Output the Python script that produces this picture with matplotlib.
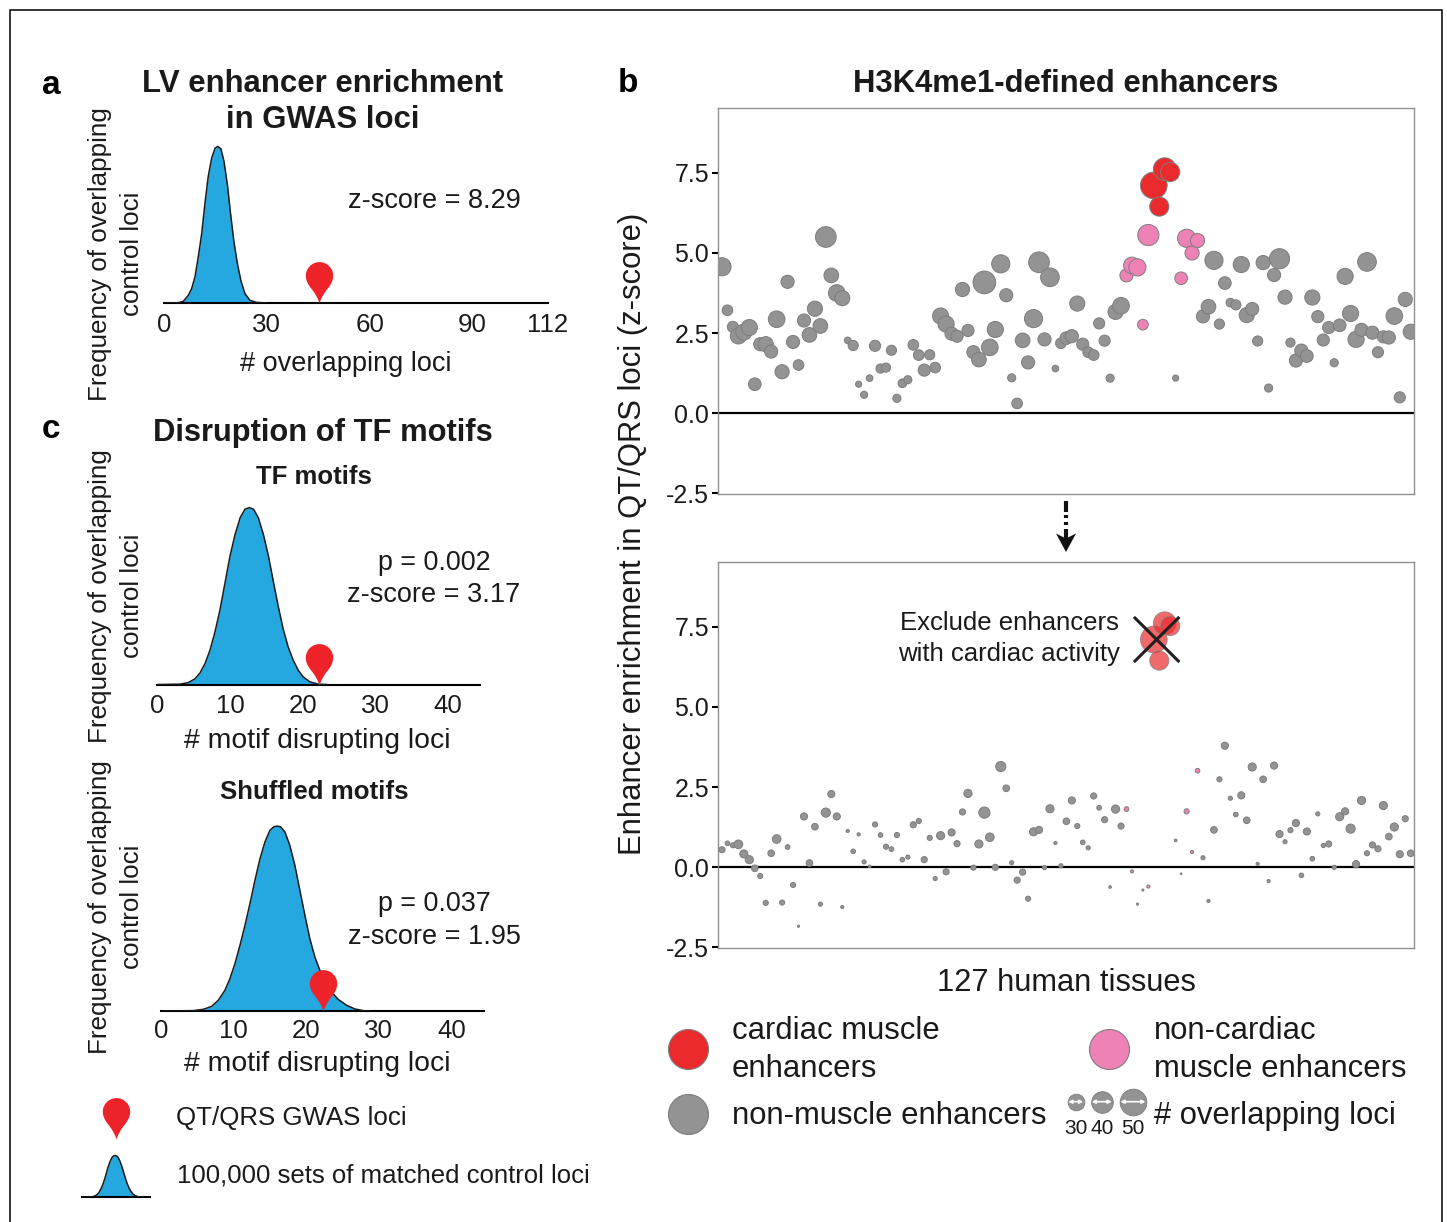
import numpy as np
import matplotlib
matplotlib.use("Agg")
import matplotlib.pyplot as plt
from matplotlib.path import Path
from matplotlib.patches import Polygon

plt.rcParams['font.family'] = ['Liberation Sans', 'DejaVu Sans']

W, H = 1447, 1222

# ---- data: panel b, one entry per tissue -------------------------------
top_z = [4.57,3.21,2.69,2.41,2.53,2.67,0.90,2.15,2.15,1.92,2.93,1.29,4.10,2.22,1.50,2.89,2.44,3.26,2.72,5.50,
 4.30,3.75,3.59,2.27,2.11,0.90,0.57,1.09,2.10,1.39,1.42,1.96,0.46,0.93,1.04,2.13,1.81,1.34,1.82,1.42,
 3.03,2.78,2.48,2.40,3.86,2.58,1.90,1.67,4.08,2.05,2.61,4.66,3.68,1.10,0.30,2.27,1.58,2.95,4.71,2.30,
 4.24,1.39,2.18,2.34,2.40,3.42,2.15,1.90,1.81,2.80,2.26,1.09,3.16,3.35,4.30,4.61,4.55,2.76,5.56,7.11,
 6.45,7.62,7.53,1.09,4.21,5.46,5.00,5.39,3.02,3.32,4.77,2.78,4.06,3.45,3.38,4.64,3.06,3.25,2.25,4.70,
 0.78,4.31,4.82,3.62,2.20,1.64,1.95,1.78,3.61,3.01,2.28,2.67,1.57,2.74,4.27,3.11,2.30,2.60,4.72,2.51,
 1.90,2.38,2.36,3.03,0.49,3.55,2.54]
top_loci = [33,18,19,29,29,29,22,23,27,23,30,25,23,23,18,23,26,27,26,38,
 26,30,27,10,17,9,11,10,19,15,15,17,13,14,13,18,18,21,17,18,
 29,29,23,21,25,21,23,26,42,30,29,33,23,13,18,26,23,33,38,23,
 34,10,18,22,23,27,21,18,18,19,19,13,27,30,23,30,31,18,39,50,
 35,42,35,9,22,33,25,25,23,26,33,17,22,14,17,29,27,23,17,25,
 13,23,37,25,15,23,23,22,27,21,21,21,13,22,29,29,29,23,34,23,
 19,21,23,30,19,25,27]
bottom_z = [0.54,0.74,0.68,0.71,0.41,0.23,-0.04,-0.28,-1.12,0.43,0.875,-1.11,0.625,-0.56,-1.85,1.58,0.125,1.26,-1.16,1.70,
 2.28,1.58,-1.25,1.125,0.49,1.02,0.16,0.02,1.33,1.00,0.635,0.56,1.00,0.23,0.31,1.32,1.44,0.23,0.91,-0.36,
 0.98,-0.15,1.08,0.73,1.72,2.30,-0.02,0.72,1.70,0.93,-0.01,3.14,2.46,0.135,-0.41,-0.16,-0.99,1.10,1.16,-0.02,
 1.82,0.75,0.04,1.43,2.08,1.28,0.77,0.60,2.22,1.85,1.48,-0.625,1.81,1.28,1.81,-0.135,-1.16,-0.72,-0.61,7.11,
 6.45,7.62,7.53,0.83,-0.21,1.74,0.47,3.01,0.29,-1.06,1.16,2.74,3.79,2.15,1.64,2.24,1.46,3.125,0.10,2.74,
 -0.44,3.17,1.03,0.79,1.15,1.375,-0.26,1.11,0.26,1.66,0.67,0.72,-0.01,1.57,1.74,1.20,0.09,2.08,0.43,0.69,
 0.57,1.92,0.95,1.25,0.40,1.51,0.43]
bottom_loci = [9,6,7,14,13,13,10,7,7,10,14,7,6,7,1,11,10,10,5,15,
 11,11,3,3,6,3,5,2,7,6,7,6,7,6,5,9,7,9,7,5,
 13,9,11,9,9,13,7,13,19,14,9,17,10,5,9,9,7,13,11,5,
 13,3,5,10,11,7,6,5,9,6,9,2,13,9,6,3,1,1,3,50,
 35,42,35,2,0,7,3,6,5,3,10,7,11,5,6,11,10,13,3,10,
 3,11,11,5,7,11,6,11,6,5,5,9,5,13,11,15,11,13,7,9,
 9,13,10,13,11,9,10]
cardiac_tissues = [79, 80, 81, 82]
muscle_tissues = [74, 75, 76, 77, 78, 84, 85, 86, 87]
size_legend = [30, 40, 50]

# ---- data: null distributions (relative frequency) ----------------------
a_x = [0.29,4.18,5.64,7.1,8.07,9.04,10.0,11.0,11.95,12.9,13.9,14.9,15.7,16.6,17.5,18.5,19.4,20.4,21.4,22.4,23.6,25.1,27.0,29.9]
a_y = [0,.002,.011,.049,.092,.167,.295,.444,.637,.808,.925,.989,1,.985,.904,.754,.573,.391,.252,.145,.06,.017,.004,0]
c1_x = [0.14,3.12,4.27,5.18,5.87,6.56,7.25,7.94,8.62,9.31,10.0,10.7,11.4,12.06,12.66,13.25,13.9,14.6,15.3,15.96,16.65,17.3,18.0,18.7,19.4,20.1,21.0,22.15,23.3]
c1_y = [0,.002,.011,.032,.065,.118,.194,.298,.421,.573,.725,.848,.943,.991,1,.991,.943,.848,.725,.583,.44,.317,.213,.137,.08,.042,.015,.002,0]
c2_x = [0.27,4.49,5.86,7.01,7.93,8.84,9.53,10.22,10.91,11.6,12.28,12.97,13.66,14.35,15.03,15.58,16.04,16.5,17.1,17.78,18.47,19.16,19.85,20.53,21.22,21.91,22.6,23.52,24.43,25.58,26.73,27.87,28.79]
c2_y = [0,.002,.009,.025,.058,.112,.175,.256,.355,.463,.58,.706,.823,.914,.977,.996,1,.996,.968,.895,.787,.652,.517,.391,.292,.22,.157,.103,.063,.031,.011,.002,0]
a_gwas = 45.2
c1_gwas = 22.3
c2_gwas = 22.3
a_ticks = [0, 30, 60, 90, 112]
c_ticks = [0, 10, 20, 30, 40]
z_ticks = [-2.5, 0.0, 2.5, 5.0, 7.5]

BLUE = '#25a7e0'
RED = '#ea2a2c'
PINRED = '#ee2229'
PINK = '#ee82b5'
GRAY = '#939393'
EDGE = '#7d7d7d'
INK = '#1a1a1a'

fig = plt.figure(figsize=(W/100, H/100), dpi=100, facecolor='white')


def ax_px(l, t, r, b, **kw):
    return fig.add_axes([l/W, 1-b/H, (r-l)/W, (b-t)/H], **kw)


# pin marker: tip at the origin, so it sits exactly on the value
_r, _c = 13.7, 27.7
_k = 0.5523*_r
PIN = Path(
    [(0,0),(1.5,5),(4.5,10.5),(8.3,15),(11.5,19),(_r,23),(_r,_c),
     (_r,_c+_k),(_k,_c+_r),(0,_c+_r),(-_k,_c+_r),(-_r,_c+_k),(-_r,_c),
     (-_r,23),(-11.5,19),(-8.3,15),(-4.5,10.5),(-1.5,5),(0,0),(0,0)],
    [Path.MOVETO]+[Path.CURVE4]*18+[Path.CLOSEPOLY])
PIN_MS = 2*(_c+_r)*0.72


def bell(l, t, r, b, xs, ys, xmax, ticks, gwas=None, pad=7, fs=18.6):
    ax = ax_px(l, t, r, b)
    ax.patch.set_alpha(0)
    ax.fill_between(xs, ys, 0, color=BLUE, lw=0, zorder=2)
    ax.plot(xs, ys, color=INK, lw=1.1, zorder=3, solid_joinstyle='round')
    if gwas is not None:
        ax.plot([gwas], [0], marker=PIN, ms=PIN_MS, mfc=PINRED, mec='none', ls='none',
                zorder=5, clip_on=False)
    ax.set_xlim(0, xmax)
    ax.set_ylim(0, 1.06)
    for s in ('top', 'left', 'right'):
        ax.spines[s].set_visible(False)
    ax.spines['bottom'].set_linewidth(1.5)
    ax.spines['bottom'].set_color('black')
    ax.set_yticks([])
    ax.set_xticks(ticks if ticks else [])
    ax.tick_params(axis='x', length=0, pad=pad, labelsize=fs, labelcolor=INK)
    return ax


bell(164, 137, 548, 303, a_x, a_y, 112, a_ticks, a_gwas)
bell(157.3, 497, 480, 684.5, c1_x, c1_y, 44.4, c_ticks, c1_gwas, pad=6.5)
bell(160.7, 815, 484, 1011, c2_x, c2_y, 44.5, c_ticks, c2_gwas, pad=6)
bell(82, 1153, 150, 1197, c1_x, c1_y, 26, None)

# ---- panel b ------------------------------------------------------------
tissue = np.arange(len(top_z))
colors = np.array([GRAY]*len(top_z), dtype=object)
colors[muscle_tissues] = PINK
colors[cardiac_tissues] = RED


def area(n):
    r_px = (2.5 + 0.75*np.asarray(n, float))/3
    return (2*r_px*0.72)**2


def scatter_panel(t, b, z, loci, faded):
    ax = ax_px(718, t, 1414, b)
    ax.set_xlim(-0.73, 126.6)
    ax.set_ylim(-2.53, 9.53)
    z = np.asarray(z); loci = np.asarray(loci)
    keep = np.ones(len(z), bool)
    if faded:
        keep[cardiac_tissues] = False
    ax.axhline(0, color='black', lw=1.6, zorder=2)
    ax.scatter(tissue[keep], z[keep], s=area(loci[keep]), c=list(colors[keep]),
               edgecolors=EDGE, linewidths=0.7, zorder=3, clip_on=True)
    if faded:
        ax.scatter(tissue[~keep], z[~keep], s=area(loci[~keep]), c=list(colors[~keep]),
                   edgecolors=EDGE, linewidths=0.7, alpha=0.7, zorder=3)
    for s in ax.spines.values():
        s.set_color('#8f8f8f')
        s.set_linewidth(1.0)
    ax.set_xticks([])
    ax.set_yticks(z_ticks)
    ax.set_yticklabels([f'{v:.1f}' for v in z_ticks])
    ax.tick_params(axis='y', length=4.5, width=1.5, color='black', pad=2, labelsize=18, labelcolor=INK)
    return ax


scatter_panel(108, 494, top_z, top_loci, False)
scatter_panel(562, 948, bottom_z, bottom_loci, True)

# ---- overlay in pixel coordinates: text, legends, frame, arrow ----------
ov = fig.add_axes([0, 0, 1, 1], zorder=10)
ov.set_xlim(0, W); ov.set_ylim(H, 0)
ov.axis('off')
ov.patch.set_alpha(0)


def T(x, y, s, fs=19.5, ha='center', weight='normal', rot=0, color=INK):
    if rot:
        x += 3
    else:
        y += 2
    ov.text(x, y, s, fontsize=fs, ha=ha, va='center', fontweight=weight, rotation=rot,
            color=color, rotation_mode='default')


# outer frame
ov.plot([10, 10, 1442, 1442], [H+5, 10, 10, H+5], color='black', lw=1.1, clip_on=True, solid_joinstyle='miter')

for x, y, s in [(51, 83, 'a'), (628, 81, 'b'), (51, 427, 'c')]:
    T(x, y, s, fs=24, weight='bold', color='black')

T(323, 82, 'LV enhancer enrichment', fs=22.4, weight='bold')
T(323, 118, 'in GWAS loci', fs=22.4, weight='bold')
T(323, 431, 'Disruption of TF motifs', fs=22.2, weight='bold')
T(1066, 82, 'H3K4me1-defined enhancers', fs=22.3, weight='bold')
T(314, 475, 'TF motifs', fs=18.5, weight='bold')
T(314, 790, 'Shuffled motifs', fs=18.6, weight='bold')

T(434, 199, 'z-score = 8.29', fs=19.5)
T(434, 561, 'p = 0.002', fs=19.4)
T(434, 593, 'z-score = 3.17', fs=19.5)
T(434, 902, 'p = 0.037', fs=19.4)
T(434, 935, 'z-score = 1.95', fs=19.5)

T(346, 362, '# overlapping loci', fs=19.5)
T(317, 739, '# motif disrupting loci', fs=20.4)
T(317, 1062, '# motif disrupting loci', fs=20.4)
for yc in (254, 596, 907):
    T(97, yc, 'Frequency of overlapping', fs=18.7, rot=90)
    T(129, yc, 'control loci', fs=18.7, rot=90)

T(630, 534, 'Enhancer enrichment in QT/QRS loci (z-score)', fs=22.3, rot=90)
T(1066, 981, '127 human tissues', fs=22.2)
T(1009, 621, 'Exclude enhancers', fs=18.5)
T(1009, 652, 'with cardiac activity', fs=18.5)

# cross over the removed cardiac enhancers
ov.plot([1135, 1178.3], [618, 661], color='#231f20', lw=2.2)
ov.plot([1178.3, 1135], [618, 661], color='#231f20', lw=2.2)

# dash-dot arrow between the panels
ov.plot([1066, 1066], [500.7, 511.7], color='#111111', lw=3, solid_capstyle='butt')
ov.plot([1066, 1066], [514.5, 518], color='#111111', lw=3, solid_capstyle='butt')
ov.plot([1066, 1066], [521.5, 525], color='#111111', lw=3, solid_capstyle='butt')
ov.plot([1066, 1066], [529, 540], color='#111111', lw=3, solid_capstyle='butt')
ov.add_patch(Polygon([(1056, 533.5), (1066, 538.5), (1076, 533.5), (1066, 552)], closed=True,
                     fc='#111111', ec='none'))

# panel c / a legend
ov.plot([116], [1139], marker=PIN, ms=PIN_MS, mfc=PINRED, mec='none', ls='none')
T(176, 1116, 'QT/QRS GWAS loci', fs=18.65, ha='left')
T(177, 1173, '100,000 sets of matched control loci', fs=18.55, ha='left')

# panel b legend
for (x, y, c) in [(688, 1049, RED), (1109, 1049, PINK), (688, 1114, GRAY)]:
    ov.scatter([x], [y], s=(2*20*0.72)**2, c=c, edgecolors=EDGE, linewidths=0.8)
T(732, 1029, 'cardiac muscle', fs=22.3, ha='left')
T(732, 1067, 'enhancers', fs=22.3, ha='left')
T(732, 1114, 'non-muscle enhancers', fs=22.3, ha='left')
T(1154, 1029, 'non-cardiac', fs=22.3, ha='left')
T(1154, 1067, 'muscle enhancers', fs=22.3, ha='left')
T(1154, 1114, '# overlapping loci', fs=22.3, ha='left')

for x, n in zip((1075.7, 1101.7, 1133), size_legend):
    r_px = (2.5 + 0.75*n)/3
    ov.scatter([x], [1101.7], s=(2*r_px*0.72)**2, c=GRAY, edgecolors=EDGE, linewidths=0.6)
    ov.annotate('', xy=(x-r_px+0.8, 1101.7), xytext=(x+r_px-0.8, 1101.7),
                arrowprops=dict(arrowstyle='<|-|>', color='white', lw=1.2, mutation_scale=5,
                                shrinkA=0, shrinkB=0))
    T(x, 1127, str(n), fs=15)

fig.savefig('out.png', dpi=100, facecolor='white')
